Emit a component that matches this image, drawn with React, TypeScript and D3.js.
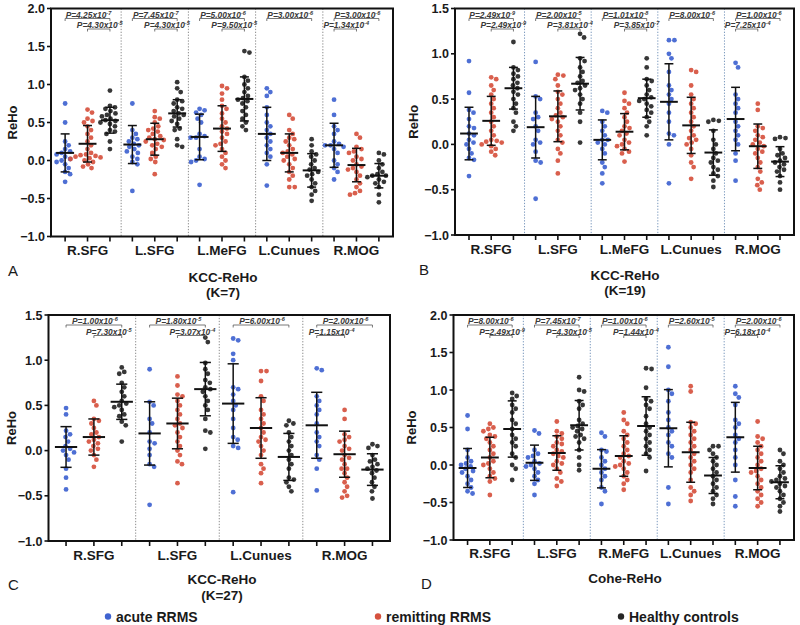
import React from "react";
import * as d3 from "d3";

const GROUP_NAMES = ["acute RRMS", "remitting RRMS", "Healthy controls"];
const GROUP_COLORS = ["#3f63d0", "#d6513e", "#262626"];

// ---------- Panel A : KCC-ReHo (K=7) ----------
const aRegions = ["R.SFG", "L.SFG", "L.MeFG", "L.Cunues", "R.MOG"];
const aTicks = [-1.0, -0.5, 0.0, 0.5, 1.0, 1.5, 2.0];
const aAcute = [
  [0.75, 0.5, 0.25, 0.2, 0.15, 0.12, 0.1, 0.08, 0.05, 0.02, 0.0, -0.02, -0.05, -0.1, -0.15, -0.18, -0.28],
  [0.75, 0.4, 0.35, 0.3, 0.28, 0.25, 0.22, 0.2, 0.18, 0.15, 0.12, 0.1, 0.05, 0.02, -0.02, -0.05, -0.4],
  [0.68, 0.66, 0.63, 0.6, 0.55, 0.5, 0.35, 0.32, 0.3, 0.3, 0.15, 0.05, 0.02, 0.0, -0.02, -0.32],
  [0.95, 0.9, 0.85, 0.7, 0.6, 0.5, 0.45, 0.4, 0.35, 0.3, 0.25, 0.2, 0.15, 0.1, 0.05, -0.05, -0.33],
  [0.8, 0.6, 0.45, 0.4, 0.35, 0.25, 0.22, 0.2, 0.2, 0.18, 0.15, 0.1, 0.0, -0.05, -0.1, -0.15, -0.25],
];
const aRemit = [
  [0.67, 0.63, 0.55, 0.52, 0.5, 0.45, 0.4, 0.35, 0.3, 0.25, 0.2, 0.15, 0.1, 0.08, 0.07, 0.06, 0.05, 0.04, 0.03, 0.02, 0.0, -0.02, -0.05, -0.08, -0.1],
  [0.65, 0.57, 0.55, 0.5, 0.45, 0.42, 0.4, 0.38, 0.35, 0.32, 0.3, 0.28, 0.27, 0.25, 0.22, 0.2, 0.18, 0.15, 0.1, 0.05, 0.02, -0.02, -0.18],
  [0.98, 0.95, 0.88, 0.8, 0.72, 0.68, 0.62, 0.55, 0.5, 0.45, 0.42, 0.38, 0.35, 0.3, 0.25, 0.22, 0.2, 0.15, 0.1, 0.05, 0.0, -0.05, -0.1],
  [0.6, 0.55, 0.4, 0.35, 0.3, 0.28, 0.25, 0.2, 0.15, 0.12, 0.1, 0.08, 0.05, 0.02, 0.0, -0.05, -0.1, -0.15, -0.2, -0.25, -0.35, -0.35],
  [0.35, 0.3, 0.18, 0.15, 0.12, 0.1, 0.05, 0.02, 0.0, -0.05, -0.08, -0.1, -0.12, -0.15, -0.2, -0.25, -0.3, -0.35, -0.4, -0.43, -0.45],
];
const aHealthy = [
  [0.92, 0.72, 0.7, 0.68, 0.65, 0.62, 0.6, 0.58, 0.55, 0.53, 0.52, 0.5, 0.48, 0.45, 0.4, 0.38, 0.35, 0.25, 0.15],
  [1.03, 0.95, 0.9, 0.8, 0.78, 0.75, 0.7, 0.68, 0.65, 0.62, 0.6, 0.58, 0.55, 0.52, 0.48, 0.42, 0.4, 0.28, 0.2, 0.18],
  [1.44, 1.42, 1.1, 1.05, 1.0, 0.95, 0.9, 0.85, 0.82, 0.8, 0.78, 0.75, 0.7, 0.65, 0.6, 0.55, 0.5, 0.45, 0.4],
  [0.28, 0.2, 0.12, 0.08, 0.05, 0.0, -0.05, -0.1, -0.12, -0.15, -0.18, -0.2, -0.25, -0.3, -0.35, -0.4, -0.45, -0.53],
  [0.1, 0.08, 0.0, -0.05, -0.1, -0.15, -0.18, -0.2, -0.2, -0.22, -0.25, -0.28, -0.3, -0.35, -0.45, -0.55],
];
const aMeans = [[0.1, 0.22, 0.53], [0.21, 0.28, 0.62], [0.31, 0.42, 0.81], [0.35, 0.1, -0.13], [0.2, -0.06, -0.2]];
const aSDs = [[0.25, 0.24, 0.17], [0.25, 0.21, 0.18], [0.3, 0.3, 0.29], [0.35, 0.25, 0.22], [0.29, 0.22, 0.16]];
const aPvals = [
  [["P=4.25x10^-7", 0, 2], ["P=4.30x10^-5", 1, 2]],
  [["P=7.45x10^-7", 0, 2], ["P=4.30x10^-5", 1, 2]],
  [["P=5.00x10^-6", 0, 2], ["P=9.50x10^-5", 1, 2]],
  [["P=3.00x10^-6", 0, 2]],
  [["P=3.00x10^-6", 0, 2], ["P=1.34x10^-4", 0, 1]],
];

// ---------- Panel B : KCC-ReHo (K=19) ----------
const bRegions = ["R.SFG", "L.SFG", "L.MeFG", "L.Cunues", "R.MOG"];
const bTicks = [-1.0, -0.5, 0.0, 0.5, 1.0, 1.5];
const bAcute = [
  [0.92, 0.57, 0.38, 0.35, 0.28, 0.2, 0.18, 0.12, 0.1, 0.05, 0.02, 0.0, -0.05, -0.1, -0.15, -0.17, -0.35],
  [0.91, 0.53, 0.5, 0.35, 0.3, 0.28, 0.2, 0.15, 0.05, 0.02, 0.0, -0.08, -0.18, -0.2, -0.6],
  [0.37, 0.35, 0.25, 0.2, 0.15, 0.1, 0.05, 0.05, 0.02, 0.0, -0.05, -0.1, -0.2, -0.25, -0.32, -0.43],
  [1.15, 1.15, 1.0, 0.95, 0.8, 0.65, 0.6, 0.55, 0.5, 0.45, 0.35, 0.25, 0.12, 0.1, 0.0, -0.43],
  [0.9, 0.85, 0.55, 0.5, 0.45, 0.4, 0.35, 0.25, 0.2, 0.15, 0.1, 0.05, 0.0, -0.1, -0.18, -0.4],
];
const bRemit = [
  [0.74, 0.72, 0.65, 0.6, 0.55, 0.5, 0.45, 0.4, 0.35, 0.3, 0.25, 0.2, 0.15, 0.1, 0.05, 0.04, 0.03, 0.02, 0.0, -0.02, -0.05, -0.08, -0.12],
  [0.77, 0.76, 0.72, 0.65, 0.58, 0.55, 0.5, 0.45, 0.4, 0.35, 0.32, 0.3, 0.28, 0.25, 0.2, 0.15, 0.1, 0.05, 0.02, -0.05, -0.1, -0.18, -0.32],
  [0.57, 0.48, 0.45, 0.4, 0.35, 0.3, 0.25, 0.2, 0.18, 0.15, 0.12, 0.1, 0.05, 0.02, 0.0, -0.02, -0.05, -0.08, -0.1, -0.19],
  [0.82, 0.8, 0.65, 0.55, 0.5, 0.45, 0.4, 0.35, 0.3, 0.25, 0.2, 0.15, 0.1, 0.07, 0.05, 0.02, 0.0, -0.05, -0.12, -0.2, -0.25, -0.38],
  [0.45, 0.38, 0.2, 0.18, 0.15, 0.1, 0.08, 0.05, 0.02, 0.0, -0.02, -0.05, -0.08, -0.1, -0.15, -0.2, -0.25, -0.3, -0.38, -0.42, -0.45, -0.5],
];
const bHealthy = [
  [1.13, 0.85, 0.82, 0.78, 0.75, 0.72, 0.68, 0.65, 0.62, 0.58, 0.55, 0.5, 0.45, 0.4, 0.35, 0.25, 0.2, 0.15],
  [1.22, 1.18, 0.95, 0.92, 0.85, 0.8, 0.75, 0.7, 0.68, 0.65, 0.62, 0.6, 0.55, 0.5, 0.45, 0.35, 0.25, 0.02],
  [0.95, 0.85, 0.72, 0.7, 0.65, 0.6, 0.55, 0.52, 0.5, 0.48, 0.45, 0.42, 0.38, 0.35, 0.3, 0.25, 0.2, 0.1],
  [0.27, 0.26, 0.25, 0.15, 0.05, 0.0, -0.05, -0.1, -0.15, -0.18, -0.2, -0.25, -0.28, -0.32, -0.35, -0.4, -0.47],
  [0.08, 0.07, 0.06, -0.05, -0.1, -0.12, -0.15, -0.18, -0.2, -0.22, -0.25, -0.28, -0.3, -0.35, -0.42, -0.5],
];
const bMeans = [[0.12, 0.26, 0.62], [0.19, 0.31, 0.67], [0.05, 0.14, 0.51], [0.47, 0.21, -0.09], [0.28, -0.02, -0.19]];
const bSDs = [[0.29, 0.27, 0.23], [0.34, 0.28, 0.29], [0.22, 0.2, 0.21], [0.42, 0.31, 0.25], [0.35, 0.245, 0.165]];
const bPvals = [
  [["P=2.49x10^-9", 0, 2], ["P=2.49x10^-9", 1, 2]],
  [["P=2.00x10^-5", 0, 2], ["P=3.81x10^-4", 1, 2]],
  [["P=1.01x10^-8", 0, 2], ["P=3.85x10^-7", 1, 2]],
  [["P=8.00x10^-6", 0, 2]],
  [["P=1.00x10^-6", 0, 2], ["P=7.25x10^-4", 0, 1]],
];

// ---------- Panel C : KCC-ReHo (K=27) ----------
const cRegions = ["R.SFG", "L.SFG", "L.Cunues", "R.MOG"];
const cTicks = [-1.0, -0.5, 0.0, 0.5, 1.0, 1.5];
const cAcute = [
  [0.47, 0.4, 0.22, 0.18, 0.15, 0.1, 0.05, 0.02, 0.0, -0.02, -0.05, -0.1, -0.2, -0.3, -0.43],
  [0.9, 0.54, 0.5, 0.35, 0.3, 0.2, 0.1, 0.08, 0.02, -0.05, -0.15, -0.18, -0.6],
  [1.24, 1.22, 1.07, 1.0, 0.7, 0.68, 0.62, 0.55, 0.5, 0.45, 0.35, 0.25, 0.15, 0.12, 0.05, 0.03, -0.46],
  [0.91, 0.89, 0.6, 0.55, 0.5, 0.45, 0.4, 0.3, 0.2, 0.15, 0.1, 0.05, -0.05, -0.1, -0.2, -0.44],
];
const cRemit = [
  [0.55, 0.5, 0.35, 0.33, 0.3, 0.25, 0.2, 0.18, 0.15, 0.12, 0.1, 0.08, 0.05, 0.02, 0.0, -0.05, -0.1, -0.18],
  [0.82, 0.72, 0.62, 0.6, 0.55, 0.5, 0.45, 0.4, 0.35, 0.3, 0.28, 0.25, 0.2, 0.15, 0.1, 0.05, 0.0, -0.05, -0.12, -0.15, -0.36],
  [0.88, 0.88, 0.77, 0.6, 0.55, 0.45, 0.4, 0.35, 0.3, 0.25, 0.2, 0.15, 0.12, 0.1, 0.05, 0.0, -0.05, -0.15, -0.2, -0.25, -0.36],
  [0.45, 0.35, 0.18, 0.15, 0.12, 0.1, 0.05, 0.02, 0.0, -0.05, -0.08, -0.1, -0.15, -0.2, -0.2, -0.25, -0.3, -0.35, -0.4, -0.45, -0.5, -0.52],
];
const cHealthy = [
  [0.92, 0.87, 0.85, 0.75, 0.7, 0.65, 0.6, 0.55, 0.52, 0.5, 0.48, 0.45, 0.4, 0.38, 0.32, 0.28, 0.1],
  [1.25, 1.2, 0.97, 0.9, 0.85, 0.78, 0.75, 0.7, 0.68, 0.65, 0.6, 0.55, 0.5, 0.45, 0.35, 0.22, 0.2, 0.02],
  [0.33, 0.3, 0.28, 0.2, 0.15, 0.1, 0.05, 0.0, -0.05, -0.1, -0.15, -0.2, -0.3, -0.32, -0.35, -0.4, -0.45],
  [0.07, 0.05, 0.03, -0.05, -0.1, -0.12, -0.15, -0.18, -0.2, -0.22, -0.25, -0.3, -0.35, -0.4, -0.45, -0.53],
];
const cMeans = [[0.04, 0.15, 0.54], [0.19, 0.3, 0.68], [0.52, 0.25, -0.07], [0.28, -0.04, -0.21]];
const cSDs = [[0.225, 0.2, 0.195], [0.35, 0.28, 0.295], [0.44, 0.335, 0.26], [0.365, 0.255, 0.175]];
const cPvals = [
  [["P=1.00x10^-6", 0, 2], ["P=7.30x10^-5", 1, 2]],
  [["P=1.80x10^-5", 0, 2], ["P=3.07x10^-4", 1, 2]],
  [["P=6.00x10^-6", 0, 2]],
  [["P=2.00x10^-6", 0, 2], ["P=1.15x10^-4", 0, 1]],
];

// ---------- Panel D : Cohe-ReHo ----------
const dRegions = ["R.SFG", "L.SFG", "R.MeFG", "L.Cunues", "R.MOG"];
const dTicks = [-1.0, -0.5, 0.0, 0.5, 1.0, 1.5, 2.0];
const dAcute = [
  [0.66, 0.48, 0.2, 0.1, 0.05, 0.02, 0.0, -0.02, -0.05, -0.08, -0.1, -0.15, -0.2, -0.25, -0.3, -0.35, -0.38],
  [0.46, 0.42, 0.2, 0.15, 0.12, 0.1, 0.05, 0.02, 0.0, -0.02, -0.05, -0.1, -0.15, -0.2, -0.25, -0.4],
  [0.43, 0.38, 0.2, 0.18, 0.1, 0.05, 0.0, -0.05, -0.1, -0.15, -0.2, -0.3, -0.35, -0.52],
  [1.57, 1.31, 1.0, 0.95, 0.85, 0.7, 0.6, 0.5, 0.45, 0.4, 0.3, 0.25, 0.15, 0.1, -0.3, -0.52],
  [1.05, 0.95, 0.9, 0.8, 0.6, 0.55, 0.5, 0.4, 0.35, 0.3, 0.2, 0.1, 0.0, -0.2, -0.42, -0.55],
];
const dRemit = [
  [0.55, 0.5, 0.48, 0.45, 0.4, 0.38, 0.35, 0.3, 0.25, 0.2, 0.15, 0.1, 0.05, 0.02, 0.0, -0.05, -0.1, -0.15, -0.18, -0.22, -0.4],
  [0.58, 0.45, 0.42, 0.38, 0.35, 0.3, 0.28, 0.25, 0.2, 0.18, 0.15, 0.12, 0.1, 0.05, 0.02, 0.0, -0.05, -0.1, -0.18, -0.22, -0.28],
  [0.7, 0.6, 0.55, 0.45, 0.4, 0.35, 0.3, 0.25, 0.2, 0.15, 0.12, 0.1, 0.05, 0.02, 0.0, -0.02, -0.05, -0.1, -0.15, -0.2, -0.25, -0.33],
  [1.05, 0.98, 0.57, 0.55, 0.5, 0.45, 0.4, 0.35, 0.3, 0.25, 0.2, 0.15, 0.1, 0.05, 0.0, -0.05, -0.1, -0.2, -0.3, -0.35, -0.4, -0.48],
  [0.58, 0.38, 0.35, 0.3, 0.25, 0.2, 0.15, 0.1, 0.05, 0.0, -0.05, -0.08, -0.1, -0.15, -0.2, -0.25, -0.3, -0.35, -0.4, -0.45, -0.5, -0.55],
];
const dHealthy = [
  [0.96, 0.92, 0.88, 0.8, 0.75, 0.7, 0.6, 0.55, 0.48, 0.4, 0.35, 0.3, 0.25, 0.15, 0.1, 0.0, -0.05, -0.2],
  [1.17, 1.0, 0.98, 0.85, 0.8, 0.75, 0.6, 0.55, 0.52, 0.5, 0.48, 0.45, 0.4, 0.38, 0.35, 0.3, 0.2, 0.1, 0.0, -0.07],
  [1.29, 1.28, 1.03, 0.88, 0.85, 0.8, 0.75, 0.65, 0.55, 0.5, 0.45, 0.4, 0.35, 0.3, 0.25, 0.2, 0.15, 0.1, -0.08],
  [0.25, 0.25, 0.2, 0.15, 0.1, 0.05, 0.0, -0.05, -0.1, -0.15, -0.2, -0.25, -0.3, -0.35, -0.4, -0.45, -0.52],
  [0.2, 0.15, 0.05, 0.0, -0.05, -0.1, -0.15, -0.18, -0.2, -0.22, -0.25, -0.28, -0.3, -0.35, -0.4, -0.45, -0.5, -0.55, -0.62],
];
const dMeans = [[-0.04, 0.1, 0.48], [0.03, 0.16, 0.53], [-0.05, 0.12, 0.52], [0.49, 0.17, -0.14], [0.37, -0.04, -0.23]];
const dSDs = [[0.26, 0.27, 0.375], [0.235, 0.23, 0.33], [0.255, 0.27, 0.39], [0.515, 0.4, 0.24], [0.465, 0.29, 0.22]];
const dPvals = [
  [["P=8.00x10^-6", 0, 2], ["P=2.49x10^-9", 1, 2]],
  [["P=7.45x10^-7", 0, 2], ["P=4.30x10^-5", 1, 2]],
  [["P=1.00x10^-6", 0, 2], ["P=1.44x10^-4", 1, 2]],
  [["P=2.60x10^-5", 0, 2]],
  [["P=2.00x10^-6", 0, 2], ["P=6.18x10^-4", 0, 1]],
];

// ---------- layout (positions only) ----------
const LAYOUTS = [
  { x0: 51, x1: 393, yTop: 8.5, yBot: 236.5, catY: 255, titleX: 223, titleY: [282, 297], letter: [8, 276], yLabelX: 17, div: "#8c8c8c" },
  { x0: 455, x1: 794, yTop: 8.5, yBot: 235, catY: 254, titleX: 625, titleY: [280, 295], letter: [419, 275], yLabelX: 418, div: "#7a98bd" },
  { x0: 48.5, x1: 390, yTop: 315, yBot: 541, catY: 560, titleX: 222, titleY: [584, 600], letter: [8, 590], yLabelX: 16, div: "#8c8c8c" },
  { x0: 453.5, x1: 794, yTop: 315, yBot: 540, catY: 558, titleX: 625, titleY: [583], letter: [421, 589], yLabelX: 416, div: "#7a98bd" },
];

const PANELS = [
  { letter: "A", title: ["KCC-ReHo", "(K=7)"], regions: aRegions, ticks: aTicks, groups: [aAcute, aRemit, aHealthy], means: aMeans, sds: aSDs, pvals: aPvals },
  { letter: "B", title: ["KCC-ReHo", "(K=19)"], regions: bRegions, ticks: bTicks, groups: [bAcute, bRemit, bHealthy], means: bMeans, sds: bSDs, pvals: bPvals },
  { letter: "C", title: ["KCC-ReHo", "(K=27)"], regions: cRegions, ticks: cTicks, groups: [cAcute, cRemit, cHealthy], means: cMeans, sds: cSDs, pvals: cPvals },
  { letter: "D", title: ["Cohe-ReHo"], regions: dRegions, ticks: dTicks, groups: [dAcute, dRemit, dHealthy], means: dMeans, sds: dSDs, pvals: dPvals },
];

const FONT = "'Liberation Sans', Arial, sans-serif";
const R = 2.4;

function dodge(values: number[], y: (v: number) => number, r: number) {
  const pts = values.map((v) => ({ v, y: y(v), dx: 0 })).sort((a, b) => a.y - b.y);
  const placed: { y: number; dx: number }[] = [];
  const d = 2 * r + 0.3;
  for (const p of pts) {
    let found = 0;
    for (let k = 0; k < 60; k++) {
      const cands = k === 0 ? [0] : [k * 0.5, -k * 0.5];
      let ok = false;
      for (const c of cands) {
        const hit = placed.some((q) => Math.abs(q.y - p.y) < d && Math.hypot(q.y - p.y, q.dx - c) < d);
        if (!hit) { found = c; ok = true; break; }
      }
      if (ok) break;
    }
    p.dx = found;
    placed.push({ y: p.y, dx: found });
  }
  return pts;
}

function PText({ label, x, y }: { label: string; x: number; y: number }) {
  const [base, exp] = label.split("^");
  return (
    <text x={x} y={y} textAnchor="middle" fontFamily={FONT} fontSize={8.4} fontStyle="italic" fontWeight="bold" fill="#3a3a3a">
      {base}
      <tspan dy={-3.2} fontSize={5.6}>{exp}</tspan>
    </text>
  );
}

function Panel({ p, L }: { p: any; L: any }) {
  const domain = d3.extent(p.ticks as number[]) as [number, number];
  const y = d3.scaleLinear().domain(domain).range([L.yBot, L.yTop]);
  const keys: string[] = [];
  p.regions.forEach((r: string, i: number) => [0, 1, 2].forEach((g) => keys.push(`${i}-${g}`)));
  const x = d3.scalePoint<string>().domain(keys).range([L.x0, L.x1]).padding(0.63);
  const step = x.step();
  const fmt = d3.format(".1f");
  const n = p.regions.length;
  return (
    <g>
      {d3.range(1, n).map((i) => {
        const xd = ((x(`${i - 1}-2`) as number) + (x(`${i}-0`) as number)) / 2;
        return <line key={"dv" + i} x1={xd} x2={xd} y1={L.yTop} y2={L.yBot} stroke={L.div} strokeWidth={1} strokeDasharray="1.3,1.6" />;
      })}
      {p.regions.map((r: string, i: number) =>
        [0, 1, 2].map((g) => {
          const cx = x(`${i}-${g}`) as number;
          const pts = dodge(p.groups[g][i], y, R);
          return pts.map((pt, k) => (
            <circle key={`d${i}-${g}-${k}`} cx={cx + pt.dx} cy={pt.y} r={R} fill={GROUP_COLORS[g]} opacity={0.92} />
          ));
        })
      )}
      {p.regions.map((r: string, i: number) =>
        [0, 1, 2].map((g) => {
          const cx = x(`${i}-${g}`) as number;
          const m = p.means[i][g];
          const s = p.sds[i][g];
          const hw = step * 0.4;
          const cw = step * 0.2;
          return (
            <g key={`m${i}-${g}`} stroke="#111" fill="none">
              <line x1={cx - hw} x2={cx + hw} y1={y(m)} y2={y(m)} strokeWidth={2} />
              <line x1={cx} x2={cx} y1={y(m - s)} y2={y(m + s)} strokeWidth={1.5} />
              <line x1={cx - cw} x2={cx + cw} y1={y(m + s)} y2={y(m + s)} strokeWidth={1.5} />
              <line x1={cx - cw} x2={cx + cw} y1={y(m - s)} y2={y(m - s)} strokeWidth={1.5} />
            </g>
          );
        })
      )}
      {p.regions.map((r: string, i: number) =>
        (p.pvals[i] as any[]).map((pv, k) => {
          const xa = x(`${i}-${pv[1]}`) as number;
          const xb = x(`${i}-${pv[2]}`) as number;
          const ly = L.yTop + 10 + k * 10.5;
          return (
            <g key={`p${i}-${k}`}>
              <path d={`M${xa},${ly + 2.5}V${ly}H${xb}V${ly + 2.5}`} stroke="#555" strokeWidth={0.8} fill="none" />
              <PText label={pv[0]} x={(xa + xb) / 2 + 1} y={ly - 0.6} />
            </g>
          );
        })
      )}
      <rect x={L.x0} y={L.yTop} width={L.x1 - L.x0} height={L.yBot - L.yTop} fill="none" stroke="#111" strokeWidth={2} />
      {p.ticks.map((t: number) => (
        <g key={"yt" + t}>
          <line x1={L.x0 - 4} x2={L.x0} y1={y(t)} y2={y(t)} stroke="#111" strokeWidth={1.6} />
          <text x={L.x0 - 6} y={y(t)} dy="0.36em" textAnchor="end" fontFamily={FONT} fontWeight="bold" fontSize={12.5} fill="#1a1a1a">
            {fmt(t)}
          </text>
        </g>
      ))}
      {keys.map((k) => (
        <line key={"xt" + k} x1={x(k)} x2={x(k)} y1={L.yBot} y2={L.yBot + 5} stroke="#111" strokeWidth={1.6} />
      ))}
      {p.regions.map((r: string, i: number) => (
        <text key={"cl" + i} x={x(`${i}-1`)} y={L.catY} textAnchor="middle" fontFamily={FONT} fontWeight="bold" fontSize={13.5} fill="#1a1a1a">
          {r}
        </text>
      ))}
      <text transform={`translate(${L.yLabelX},${(L.yTop + L.yBot) / 2}) rotate(-90)`} textAnchor="middle" fontFamily={FONT} fontWeight="bold" fontSize={13} fill="#1a1a1a">
        ReHo
      </text>
      {p.title.map((t: string, k: number) => (
        <text key={"tt" + k} x={L.titleX} y={L.titleY[k]} textAnchor="middle" fontFamily={FONT} fontWeight="bold" fontSize={13.5} fill="#1a1a1a">
          {t}
        </text>
      ))}
      <text x={L.letter[0]} y={L.letter[1]} fontFamily={FONT} fontSize={15} fill="#1a1a1a">
        {p.letter}
      </text>
    </g>
  );
}

const LEGEND_POS = [[108, 116], [378, 386], [621, 629]];

export default function App() {
  return (
    <svg width={800} height={625} viewBox="0 0 800 625" style={{ position: "absolute", left: 0, top: 0, background: "#fff" }}>
      <rect width={800} height={625} fill="#fff" />
      {PANELS.map((p, i) => (
        <Panel key={p.letter} p={p} L={LAYOUTS[i]} />
      ))}
      {GROUP_NAMES.map((g, i) => (
        <g key={g}>
          <circle cx={LEGEND_POS[i][0]} cy={616.5} r={3.2} fill={GROUP_COLORS[i]} />
          <text x={LEGEND_POS[i][1]} y={621.5} fontFamily={FONT} fontWeight="bold" fontSize={14} fill="#1a1a1a">
            {g}
          </text>
        </g>
      ))}
    </svg>
  );
}
